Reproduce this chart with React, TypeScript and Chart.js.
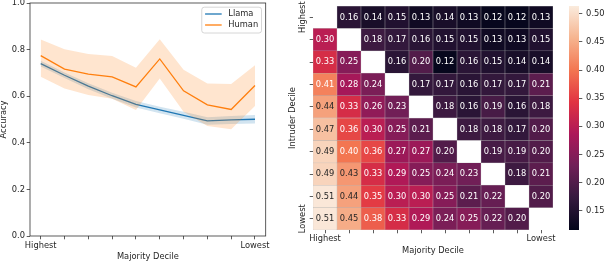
import React, { useEffect, useRef } from 'react';
import { Chart, registerables } from 'chart.js';
Chart.register(...registerables);

// ---------- data ----------
const decileTicks = ['Highest', '', '', '', '', '', '', '', '', 'Lowest'];

const llamaMean = [0.740, 0.690, 0.643, 0.602, 0.565, 0.541, 0.518, 0.494, 0.498, 0.501];
const llamaLow = [0.728, 0.678, 0.630, 0.589, 0.551, 0.527, 0.503, 0.478, 0.481, 0.483];
const llamaHigh = [0.752, 0.702, 0.656, 0.615, 0.579, 0.555, 0.533, 0.510, 0.515, 0.519];

const humanMean = [0.774, 0.716, 0.695, 0.683, 0.640, 0.760, 0.623, 0.563, 0.543, 0.646];
const humanLow = [0.683, 0.633, 0.605, 0.589, 0.541, 0.676, 0.533, 0.472, 0.458, 0.558];
const humanHigh = [0.843, 0.801, 0.781, 0.773, 0.722, 0.844, 0.714, 0.655, 0.652, 0.733];

const heatRows: (number | null)[][] = [
  [null, 0.16, 0.14, 0.15, 0.13, 0.14, 0.13, 0.12, 0.12, 0.13],
  [0.30, null, 0.18, 0.17, 0.16, 0.15, 0.15, 0.13, 0.13, 0.15],
  [0.33, 0.25, null, 0.16, 0.20, 0.12, 0.16, 0.15, 0.14, 0.14],
  [0.41, 0.28, 0.24, null, 0.17, 0.17, 0.16, 0.17, 0.17, 0.21],
  [0.44, 0.33, 0.26, 0.23, null, 0.18, 0.16, 0.19, 0.16, 0.18],
  [0.47, 0.36, 0.30, 0.25, 0.21, null, 0.18, 0.18, 0.17, 0.20],
  [0.49, 0.40, 0.36, 0.27, 0.27, 0.20, null, 0.19, 0.19, 0.20],
  [0.49, 0.43, 0.33, 0.29, 0.25, 0.24, 0.23, null, 0.18, 0.21],
  [0.51, 0.44, 0.35, 0.30, 0.30, 0.25, 0.21, 0.22, null, 0.20],
  [0.51, 0.45, 0.38, 0.33, 0.29, 0.24, 0.25, 0.22, 0.20, null],
];

const colorbarTicks = [0.15, 0.2, 0.25, 0.3, 0.35, 0.4, 0.45, 0.5];
const colorMin = 0.1155;
const colorMax = 0.514;

// ---------- styles ----------
const FONT = 'DejaVu Sans';
const FS = 8.3;
const TXT = '#262626';
const AX = '#333333';

const rocketStops: [number, number[]][] = [
  [0, [3, 5, 26]],
  [1 / 7, [53, 25, 62]],
  [2 / 7, [112, 31, 87]],
  [3 / 7, [173, 23, 89]],
  [4 / 7, [225, 51, 66]],
  [5 / 7, [243, 118, 81]],
  [6 / 7, [246, 180, 143]],
  [1, [250, 235, 221]],
];

function rocketRGB(t: number): number[] {
  const tt = Math.max(0, Math.min(1, t));
  for (let i = 1; i < rocketStops.length; i++) {
    const [p1, c1] = rocketStops[i];
    const [p0, c0] = rocketStops[i - 1];
    if (tt <= p1) {
      const f = (tt - p0) / (p1 - p0);
      return c0.map((c, k) => c + (c1[k] - c) * f);
    }
  }
  return rocketStops[rocketStops.length - 1][1];
}
const rgbStr = (c: number[]) => `rgb(${Math.round(c[0])},${Math.round(c[1])},${Math.round(c[2])})`;
const norm = (v: number) => (v - colorMin) / (colorMax - colorMin);
function luminance(c: number[]) {
  const l = c.map((x) => {
    const s = x / 255;
    return s <= 0.03928 ? s / 12.92 : Math.pow((s + 0.055) / 1.055, 2.4);
  });
  return 0.2126 * l[0] + 0.7152 * l[1] + 0.0722 * l[2];
}

const pts = (arr: number[]) => arr.map((y, i) => ({ x: i, y }));

const spinePlugin = {
  id: 'spines',
  afterDatasetsDraw(chart: any) {
    const { ctx, chartArea: a } = chart;
    ctx.save();
    ctx.strokeStyle = AX;
    ctx.lineWidth = 0.8;
    ctx.strokeRect(a.left, a.top, a.right - a.left, a.bottom - a.top);
    ctx.restore();
  },
};

const legendPlugin = {
  id: 'mplLegend',
  afterDraw(chart: any) {
    const { ctx, chartArea: a } = chart;
    const order = ['Llama', 'Human'];
    const items = order
      .map((lbl) => chart.data.datasets.find((d: any) => d.label === lbl))
      .filter(Boolean);
    ctx.save();
    ctx.font = `${FS}px "${FONT}"`;
    const tw = Math.max(...items.map((d: any) => ctx.measureText(d.label).width));
    const pad = 3.3, hl = 16.6, htp = 6.6;
    const w = pad + hl + htp + tw + pad;
    const h = 25.8;
    const right = a.right - 4.2;
    const top = a.top + 4.2;
    const left = right - w;
    ctx.beginPath();
    (ctx as any).roundRect(left, top, w, h, 2.5);
    ctx.fillStyle = 'rgba(255,255,255,0.8)';
    ctx.fill();
    ctx.strokeStyle = '#cccccc';
    ctx.lineWidth = 0.8;
    ctx.stroke();
    items.forEach((d: any, i: number) => {
      const y = top + 6.8 + i * 11;
      ctx.beginPath();
      ctx.strokeStyle = d.borderColor;
      ctx.lineWidth = 1.3;
      ctx.moveTo(left + pad, y);
      ctx.lineTo(left + pad + hl, y);
      ctx.stroke();
      ctx.fillStyle = TXT;
      ctx.textAlign = 'left';
      ctx.textBaseline = 'middle';
      ctx.fillText(d.label, left + pad + hl + htp, y);
    });
    ctx.restore();
  },
};

const annotatePlugin = {
  id: 'annotate',
  afterDatasetsDraw(chart: any) {
    const { ctx } = chart;
    ctx.save();
    ctx.font = `${FS}px "${FONT}"`;
    ctx.textAlign = 'center';
    ctx.textBaseline = 'middle';
    chart.data.datasets.forEach((_: any, di: number) => {
      const meta = chart.getDatasetMeta(di);
      meta.data.forEach((el: any, ci: number) => {
        const v = heatRows[di][ci];
        if (v === null || v === undefined) return;
        const { x, y, base } = el.getProps(['x', 'y', 'base'], true);
        const lum = luminance(rocketRGB(norm(v)));
        ctx.fillStyle = lum > 0.39 ? TXT : '#ffffff';
        ctx.fillText(v.toFixed(2), x, (y + base) / 2 + 0.3);
      });
    });
    ctx.restore();
  },
};

const tickFont = { family: FONT, size: FS };
const titleFont = { family: FONT, size: FS, lineHeight: 1 };

export default function App() {
  const lineRef = useRef<HTMLCanvasElement>(null);
  const heatRef = useRef<HTMLCanvasElement>(null);
  const barRef = useRef<HTMLCanvasElement>(null);

  useEffect(() => {
    Chart.defaults.font.family = FONT;
    Chart.defaults.font.size = FS;
    Chart.defaults.color = TXT;

    const lineChart = new Chart(lineRef.current!, {
      type: 'line',
      data: {
        datasets: [
          { label: 'Human', data: pts(humanMean), borderColor: '#ff7f0e', borderWidth: 1.3, pointRadius: 0, fill: false, tension: 0 },
          { label: '_humanHigh', data: pts(humanHigh), borderWidth: 0, borderColor: 'rgba(0,0,0,0)', pointRadius: 0, fill: '+1', backgroundColor: 'rgba(255,127,14,0.2)' },
          { label: '_humanLow', data: pts(humanLow), borderWidth: 0, borderColor: 'rgba(0,0,0,0)', pointRadius: 0, fill: false },
          { label: 'Llama', data: pts(llamaMean), borderColor: '#1f77b4', borderWidth: 1.3, pointRadius: 0, fill: false, tension: 0 },
          { label: '_llamaHigh', data: pts(llamaHigh), borderWidth: 0, borderColor: 'rgba(0,0,0,0)', pointRadius: 0, fill: '+1', backgroundColor: 'rgba(31,119,180,0.2)' },
          { label: '_llamaLow', data: pts(llamaLow), borderWidth: 0, borderColor: 'rgba(0,0,0,0)', pointRadius: 0, fill: false },
        ] as any,
      },
      options: {
        animation: false,
        responsive: false,
        devicePixelRatio: 1,
        layout: { padding: { left: 0, top: 3, right: 34.3, bottom: 0 } },
        plugins: { legend: { display: false }, tooltip: { enabled: false } },
        scales: {
          x: {
            type: 'linear',
            min: -0.45,
            max: 9.45,
            afterBuildTicks: (s: any) => { s.ticks = decileTicks.map((_, i) => ({ value: i })); },
            afterFit: (s: any) => { s.height = 25; s.paddingLeft = 0; s.paddingRight = 0; },
            ticks: { autoSkip: false, maxRotation: 0, minRotation: 0, padding: 1.6, font: tickFont, color: TXT, callback: (v: any) => decileTicks[Math.round(v)] ?? '' },
            grid: { display: true, drawOnChartArea: false, drawTicks: true, tickLength: 3.3, color: AX, lineWidth: 0.8 },
            border: { display: false },
            title: { display: true, text: 'Majority Decile', font: titleFont, color: TXT, padding: { top: 0, bottom: 0.35 } },
          },
          y: {
            type: 'linear',
            min: 0,
            max: 1,
            afterFit: (s: any) => { s.width = 30; s.paddingTop = 0; s.paddingBottom = 0; },
            ticks: { stepSize: 0.2, padding: 1.7, font: tickFont, color: TXT, callback: (v: any) => Number(v).toFixed(1) },
            grid: { display: true, drawOnChartArea: false, drawTicks: true, tickLength: 3.3, color: AX, lineWidth: 0.8 },
            border: { display: false },
            title: { display: true, text: 'Accuracy', font: titleFont, color: TXT, padding: { top: 0, bottom: 0 } },
          },
        },
      } as any,
      plugins: [spinePlugin, legendPlugin],
    });

    const heatChart = new Chart(heatRef.current!, {
      type: 'bar',
      data: {
        labels: decileTicks.map((_, i) => String(i)),
        datasets: heatRows.map((row, r) => ({
          label: `row${r}`,
          data: row.map((v) => (v === null ? null : [r - 0.5, r + 0.5])),
          backgroundColor: row.map((v) => (v === null ? 'rgba(0,0,0,0)' : rgbStr(rocketRGB(norm(v))))),
          borderColor: row.map((v) => (v === null ? 'rgba(0,0,0,0)' : 'rgba(150,150,150,0.55)')),
          borderWidth: 0.5,
          borderSkipped: false,
          grouped: false,
          barPercentage: 1,
          categoryPercentage: 1,
        })) as any,
      },
      options: {
        animation: false,
        responsive: false,
        devicePixelRatio: 1,
        layout: { padding: { left: 0, top: 6, right: 12, bottom: 0 } },
        plugins: { legend: { display: false }, tooltip: { enabled: false } },
        scales: {
          x: {
            type: 'category',
            offset: true,
            afterFit: (s: any) => { s.height = 31; s.paddingLeft = 0; s.paddingRight = 0; },
            ticks: { autoSkip: false, maxRotation: 0, minRotation: 0, padding: 0.9, font: tickFont, color: TXT, callback: (_v: any, i: number) => decileTicks[i] },
            grid: { display: true, offset: false, drawOnChartArea: false, drawTicks: true, tickLength: 3.3, color: AX, lineWidth: 0.8 },
            border: { display: false },
            title: { display: true, text: 'Majority Decile', font: titleFont, color: TXT, padding: { top: 0, bottom: 6.05 } },
          },
          y: {
            type: 'linear',
            min: -0.5,
            max: 9.5,
            reverse: true,
            afterBuildTicks: (s: any) => { s.ticks = decileTicks.map((_, i) => ({ value: i })); },
            afterFit: (s: any) => { s.width = 33; s.paddingTop = 0; s.paddingBottom = 0; },
            ticks: { autoSkip: false, minRotation: 90, maxRotation: 90, crossAlign: 'center', padding: -9.2, font: tickFont, color: TXT, callback: (v: any) => decileTicks[Math.round(v)] ?? '' },
            grid: { display: true, drawOnChartArea: false, drawTicks: true, tickLength: 3.3, color: AX, lineWidth: 0.8 },
            border: { display: false },
            title: { display: true, text: 'Intruder Decile', font: titleFont, color: TXT, padding: { top: 8.35, bottom: 0 } },
          },
        },
      } as any,
      plugins: [annotatePlugin],
    });

    const barChart = new Chart(barRef.current!, {
      type: 'bar',
      data: {
        labels: [''],
        datasets: [
          {
            data: [[colorMin, colorMax]],
            backgroundColor: (c: any) => {
              const area = c.chart.chartArea;
              if (!area) return 'rgba(0,0,0,0)';
              const g = c.chart.ctx.createLinearGradient(0, area.bottom, 0, area.top);
              rocketStops.forEach(([p, col]) => g.addColorStop(p, rgbStr(col)));
              return g;
            },
            borderWidth: 0,
            barPercentage: 1,
            categoryPercentage: 1,
            inflateAmount: 0,
          },
        ] as any,
      },
      options: {
        animation: false,
        responsive: false,
        devicePixelRatio: 1,
        layout: { padding: { left: 9, top: 6, right: 0, bottom: 31 } },
        plugins: { legend: { display: false }, tooltip: { enabled: false } },
        scales: {
          x: { display: false },
          y: {
            type: 'linear',
            position: 'right',
            min: colorMin,
            max: colorMax,
            afterBuildTicks: (s: any) => { s.ticks = colorbarTicks.map((v) => ({ value: v })); },
            afterFit: (s: any) => { s.width = 25; s.paddingTop = 0; s.paddingBottom = 0; },
            ticks: { padding: 3.8, font: tickFont, color: TXT, callback: (v: any) => Number(v).toFixed(2) },
            grid: { display: true, drawOnChartArea: false, drawTicks: true, tickLength: 3.3, color: AX, lineWidth: 0.8 },
            border: { display: false },
          },
        },
      } as any,
    });

    return () => {
      lineChart.destroy();
      heatChart.destroy();
      barChart.destroy();
    };
  }, []);

  return (
    <div style={{ position: 'absolute', left: 0, top: 0, width: 604, height: 261, background: '#fff', overflow: 'hidden' }}>
      <canvas ref={lineRef} width={300} height={261} style={{ position: 'absolute', left: 0, top: 0, width: 300, height: 261 }} />
      <canvas ref={heatRef} width={285} height={261} style={{ position: 'absolute', left: 280, top: 0, width: 285, height: 261 }} />
      <canvas ref={barRef} width={44} height={261} style={{ position: 'absolute', left: 560, top: 0, width: 44, height: 261 }} />
    </div>
  );
}
